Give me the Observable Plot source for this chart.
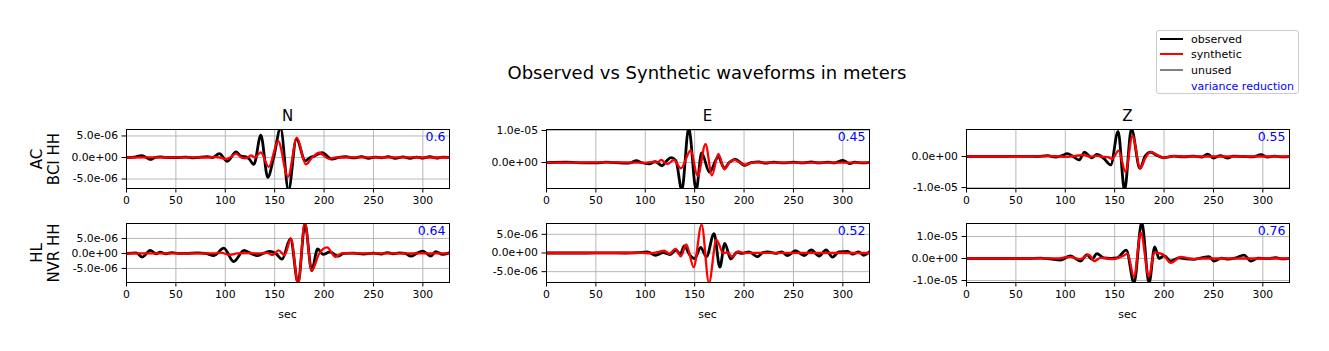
<!DOCTYPE html>
<html>
<head>
<meta charset="utf-8">
<script src="https://cdn.jsdelivr.net/npm/d3@7"></script>
<script src="https://cdn.jsdelivr.net/npm/@observablehq/plot@0.6"></script>
<style>
  html, body { margin: 0; padding: 0; background: #fff; }
  #root { position: relative; width: 1329px; height: 351px; overflow: hidden; font-family: "DejaVu Sans", sans-serif; color: #000; }
  .abs { position: absolute; white-space: nowrap; }
  .panel { position: absolute; }
</style>
</head>
<body>
<div id="root"></div>
<script>
// ---------------- DATA (values in micrometres, i.e. 1e-6 m; time in sec) ----------------
const components = ["N", "E", "Z"];
const stations = [["AC", "BCI HH"], ["HL", "NVR HH"]];
const varianceReduction = [["0.6", "0.45", "0.55"], ["0.64", "0.52", "0.76"]];
const xTicks = [0, 50, 100, 150, 200, 250, 300];
const xDomain = [0, 327];

// y ticks (µm) per panel row/col
const yTicksAC = [[-5, 0, 5], [0, 10], [-10, 0]];
const yTicksHL = [[-5, 0, 5], [-5, 0, 5], [-10, 0, 10]];
const yDomainAC = [[-7.2, 6.5], [-8.1, 10.3], [-10.3, 8.7]];
const yDomainHL = [[-9.7, 10.0], [-7.9, 7.9], [-10.9, 15.9]];

// AC / BCI HH
const ac_N_obs = [[0,0],[8,0.1],[15,0.45],[20,0],[24,-0.45],[29,0],[34,0.15],[40,0],[50,0],[60,0.1],[66,-0.1],[72,0],[82,0.2],[87,0],[94,0.9],[102,-0.9],[111,1.3],[116,0.3],[120,0.2],[124,-0.3],[129,-1.6],[136,5.2],[143,-4.6],[149,0],[156,6.8],[164,-7.6],[172,4.3],[181,-0.8],[186,0],[190,0.3],[198,1.1],[208,-0.4],[215,0],[222,0.2],[230,-0.1],[238,0.2],[245,-0.2],[252,0.1],[258,-0.1],[265,0.2],[272,-0.2],[280,0.15],[287,-0.2],[294,0.1],[300,-0.15],[307,0.2],[314,-0.15],[320,0.1],[327,0]];
const ac_N_syn = [[0,0],[20,0.05],[40,0],[60,0.05],[80,0],[90,0.1],[95,0],[101,-0.4],[106,0.2],[111,0.9],[117,-0.1],[121,-0.2],[126,0.5],[130,0],[136,1.2],[144,-2.2],[153.5,3.8],[163.5,-4.5],[172.5,4.6],[181.5,-1.6],[188,0],[195,1.1],[205,-0.3],[212,0.05],[220,0],[240,0.05],[260,0],[280,0.05],[300,0],[327,0]];
const ac_E_obs = [[0,0],[20,0.1],[30,0],[50,-0.1],[60,0.1],[70,0],[80,-0.2],[86,0],[91,0.6],[96,0],[104,-0.4],[110,0.3],[117,-1.0],[121,0.3],[126,1.5],[131,0.6],[137,-8.6],[144,10.8],[151.5,-8.6],[157,3.0],[165,-3.0],[174,1.8],[180,-1.8],[185,0],[191,1.0],[201,-0.9],[207,0],[215,0.2],[222,-0.2],[230,0.1],[240,-0.1],[250,0.1],[260,-0.1],[268,0.2],[275,-0.1],[285,0.1],[292,-0.1],[300,0.7],[307,-0.3],[312,0.1],[320,-0.1],[327,0]];
const ac_E_syn = [[0,0],[30,0],[60,0.05],[90,0],[100,-0.1],[107,0.2],[112,0],[116,0.8],[122.5,-0.5],[129,0.8],[136,-1.8],[146,3.75],[153,-4.3],[161,5.7],[167.5,-4.0],[174,2.7],[180,-2.1],[185,0],[190,0.8],[201,-0.7],[210,0.05],[220,0],[327,0]];
const ac_Z_obs = [[0,0],[30,0],[60,0.05],[72,0],[82,0.3],[90,-0.2],[96,0.2],[102,0.9],[108,0],[114,-1.1],[119.5,1.4],[124,0.2],[127,-0.4],[132,0.7],[139,-0.6],[146,-2.7],[153.5,8.1],[160,-10.8],[167,8.9],[175.5,-3.8],[181,0.2],[186.5,1.4],[193,0.3],[200,-0.4],[210,0.1],[220,-0.1],[230,0.1],[238,-0.2],[244,0.8],[250,-0.5],[257,0.3],[264,-0.5],[270,0.1],[280,0],[290,-0.1],[298,0.6],[305,-0.2],[312,0.1],[320,-0.1],[327,0]];
const ac_Z_syn = [[0,0],[60,0],[90,0.1],[100,-0.1],[110,0.2],[119,0.5],[125,-0.1],[132,0.2],[138,-0.1],[143,-0.2],[147.5,-0.75],[154,1.9],[161,-5.0],[168,6.6],[176,-3.8],[181,-0.5],[186.5,1.4],[195,0.2],[200,-0.4],[210,0.1],[220,0],[327,0]];

// HL / NVR HH
const hl_N_obs = [[0,0],[10,0.2],[16,-1.2],[24,1.0],[30,-0.1],[34,0.4],[40,-0.1],[46,0.3],[52,0],[60,0],[72,0.2],[80,0],[88.5,-0.7],[98.5,1.8],[108.5,-2.7],[119,1.0],[125,0.2],[132,-0.7],[139,0.1],[145,0.7],[151,0],[157.5,-1.9],[166,4.9],[173.7,-9.8],[180.7,9.8],[187.5,-5.7],[193.5,1.5],[199,-0.3],[206,0.5],[214,-0.9],[220,0],[230,0.1],[240,-0.2],[250,0.1],[258,-0.2],[264,0.3],[270,-0.1],[276,0.2],[282,0],[288,-0.9],[294,0.1],[300,0.8],[308,-0.9],[313,0.6],[320,-0.3],[327,0.2]];
const hl_N_syn = [[0,0],[60,0],[80,0.05],[90,0],[95,0.3],[105,-0.5],[112,0],[125,0.1],[135,0],[142.5,0.2],[148,-0.5],[154,1.0],[160,-0.6],[166.5,4.9],[173.8,-10.2],[180.5,10.4],[187.5,-5.7],[195,-0.1],[203,2.0],[211.5,-1.1],[218,0],[224,0.1],[240,0],[327,0]];
const hl_E_obs = [[0,0],[40,0],[60,0.05],[80,0],[92,0.1],[102,0.3],[110.5,-0.6],[118,0.1],[125,-0.4],[131,0.8],[135.5,-0.3],[139.5,1.9],[145,-0.5],[150,-1.5],[156,1.5],[162,-1.0],[169.6,5.2],[175.5,-3.8],[180.5,2.6],[186.5,-1.6],[193,0.2],[198,-0.1],[205,0.3],[213.5,-1.0],[219,0.1],[224,0.3],[232,-0.1],[238,0.3],[244,-0.7],[252,0.6],[261,-0.7],[268,0.8],[276,-0.8],[283,0.8],[289.5,-1.1],[296,0.3],[305,0.4],[310,-0.3],[316,0.3],[321,-0.6],[327,0.3]];
const hl_E_syn = [[0,0],[60,0],[90,0],[95,0.1],[105,-0.1],[112,0.2],[119,0.6],[124.5,-0.2],[130.5,1.1],[136,-0.9],[141.5,2.3],[149,-3.8],[157,7.6],[164.5,-8.0],[172,3.6],[179,-0.1],[183,0.2],[188,-1.0],[194,0.4],[200,0],[210,0.05],[327,0]];
const hl_Z_obs = [[0,0],[60,0],[75,0.2],[85,-0.2],[95,-0.7],[105,1.2],[115.5,-1.2],[122,1.8],[127,-0.3],[132,2.2],[139,0.3],[146,0.1],[152.5,0.3],[161.8,3.8],[169.6,-11.2],[177.4,16.5],[184.8,-11.2],[190.5,5.3],[195,0],[200,1.3],[206.8,-1.2],[215,0.3],[222,-0.2],[230,-0.4],[238,0.3],[245.6,0.8],[250.7,-1.2],[258,0.2],[265,-0.3],[272,0.2],[281,1.5],[288,-1.2],[295,0.2],[305,-0.1],[313,0.4],[320,-0.2],[327,0.1]];
const hl_Z_syn = [[0,0],[60,0],[80,0.1],[92,0],[98,0.4],[105,0.7],[115,-0.3],[124,1.8],[129,-1.2],[136,0.3],[142,0],[149,-0.3],[155,0.6],[158,1.0],[163,2.2],[169.6,-8.3],[176.4,11.7],[184.8,-8.3],[190,2.8],[195,2.4],[199,1.8],[206.8,-2.0],[217,0.75],[225,0],[230,-0.2],[240,0],[327,0]];

const legendItems = [
  {label: "observed", color: "black"},
  {label: "synthetic", color: "red"},
  {label: "unused", color: "gray"},
  {label: "variance reduction", color: null}
];

// ---------------- ASSEMBLY ----------------
const obsRows = [[ac_N_obs, ac_E_obs, ac_Z_obs], [hl_N_obs, hl_E_obs, hl_Z_obs]];
const synRows = [[ac_N_syn, ac_E_syn, ac_Z_syn], [hl_N_syn, hl_E_syn, hl_Z_syn]];
const yTicksRows = [yTicksAC, yTicksHL];
const yDomainRows = [yDomainAC, yDomainHL];

const root = document.getElementById("root");
const FRAME_W = 323, FRAME_H = 59;
const COL_X = [126, 546, 966];
const ROW_Y = [129, 223];
const ML = 80, MR = 6, MT = 6, MB = 40;
const FONT = "DejaVu Sans, sans-serif";

function fmtE(v) {
  const s = (v * 1e-6).toExponential(1);
  return s.replace(/e([+-])(\d)$/, "e$10$2");
}

function addText(txt, opts) {
  const d = document.createElement("div");
  d.className = "abs";
  d.textContent = txt;
  Object.assign(d.style, opts);
  root.appendChild(d);
  return d;
}

for (let r = 0; r < 2; r++) {
  for (let c = 0; c < 3; c++) {
    const yTicks = yTicksRows[r][c];
    const pts = (arr) => arr.map(([t, v]) => ({t, v}));
    const chart = Plot.plot({
      width: ML + FRAME_W + MR,
      height: MT + FRAME_H + MB,
      marginLeft: ML, marginRight: MR, marginTop: MT, marginBottom: MB,
      x: {domain: xDomain},
      y: {domain: yDomainRows[r][c]},
      style: {fontFamily: FONT, fontSize: "10.8px", color: "black", background: "transparent", overflow: "visible"},
      marks: [
        Plot.gridX(xTicks, {stroke: "#b0b0b0", strokeOpacity: 1, strokeWidth: 0.9}),
        Plot.gridY(yTicks, {stroke: "#b0b0b0", strokeOpacity: 1, strokeWidth: 0.9}),
        Plot.line(pts(obsRows[r][c]), {x: "t", y: "v", stroke: "black", strokeWidth: 2.8, curve: "monotone-x", clip: true}),
        Plot.line(pts(synRows[r][c]), {x: "t", y: "v", stroke: "red", strokeWidth: 2.3, curve: "monotone-x", clip: true}),
        Plot.axisX(xTicks, {tickSize: 4.5, tickPadding: 3, label: null, fontSize: 10.8}),
        Plot.axisY(yTicks, {tickSize: 4.5, tickPadding: 4, label: null, tickFormat: fmtE, fontSize: 10.8}),
        Plot.frame({stroke: "black", strokeWidth: 1}),
        Plot.text([varianceReduction[r][c]], {frameAnchor: "top-right", dx: -4, dy: 3, text: d => d, fill: "blue", fontSize: 12.5})
      ]
    });
    const holder = document.createElement("div");
    holder.className = "panel";
    holder.style.left = (COL_X[c] - ML) + "px";
    holder.style.top = (ROW_Y[r] - MT) + "px";
    holder.appendChild(chart);
    root.appendChild(holder);

    if (r === 0) {
      addText(components[c], {left: (COL_X[c] + FRAME_W / 2) + "px", top: "116px", transform: "translate(-50%,-50%)", fontSize: "15px"});
    }
    if (r === 1) {
      addText("sec", {left: (COL_X[c] + FRAME_W / 2) + "px", top: "314px", transform: "translate(-50%,-50%)", fontSize: "11px"});
    }
  }
  // row label (rotated, two lines)
  const lab = document.createElement("div");
  lab.className = "abs";
  lab.style.left = "45px";
  lab.style.top = (ROW_Y[r] + FRAME_H / 2) + "px";
  lab.style.transform = "translate(-50%,-50%) rotate(-90deg)";
  lab.style.textAlign = "center";
  lab.style.fontSize = "15px";
  lab.style.lineHeight = "16.5px";
  lab.innerHTML = stations[r].map(s => `<div>${s}</div>`).join("");
  root.appendChild(lab);
}

// suptitle
addText("Observed vs Synthetic waveforms in meters", {left: "707px", top: "72px", transform: "translate(-50%,-50%)", fontSize: "18px"});

// legend
const leg = document.createElement("div");
leg.className = "abs";
Object.assign(leg.style, {left: "1156px", top: "30px", width: "143px", height: "64px", border: "1px solid #cccccc", borderRadius: "3px", background: "#fff", boxSizing: "border-box"});
root.appendChild(leg);
legendItems.forEach((it, i) => {
  const cy = 38.5 + i * 15.7;
  if (it.color) {
    const ln = document.createElement("div");
    ln.className = "abs";
    Object.assign(ln.style, {left: "1160px", top: (cy - 1) + "px", width: "23px", height: "2px", background: it.color});
    root.appendChild(ln);
  }
  addText(it.label, {left: "1191px", top: cy + "px", transform: "translateY(-50%)", fontSize: "11px", color: it.color ? "black" : "blue"});
});
</script>
</body>
</html>
